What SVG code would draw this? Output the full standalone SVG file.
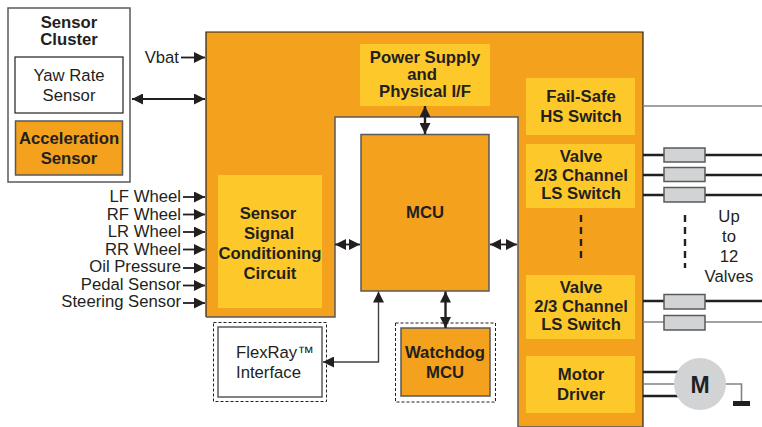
<svg xmlns="http://www.w3.org/2000/svg" width="762" height="427" viewBox="0 0 762 427">
<defs>
<marker id="a" viewBox="0 0 11 11" refX="11" refY="5.500" markerWidth="11" markerHeight="11" markerUnits="userSpaceOnUse" orient="auto-start-reverse"><path d="M0 0L11 5.500L0 11Z" fill="#231f20"/></marker>
</defs>
<style>
text{font-family:"Liberation Sans",Arial,sans-serif;fill:#231f20;text-anchor:middle;font-size:16.700px}
.b{font-weight:bold}
.r{text-anchor:end}
.y{fill:#fdc82a}
.o{fill:#f4a11d;stroke:#58595b;stroke-width:1.5}
.w{fill:#fff;stroke:#58595b;stroke-width:1.5}
.d{fill:none;stroke:#231f20;stroke-width:1;stroke-dasharray:3 2}
.c{fill:none;stroke:#231f20;stroke-width:1.8}
.t{fill:none;stroke:#231f20;stroke-width:2.400}
.g{fill:none;stroke:#808285;stroke-width:1.600}
.v{fill:#d1d3d4;stroke:#58595b;stroke-width:1.500}
.k{fill:none;stroke:#231f20;stroke-width:2.400;stroke-dasharray:7 5}
</style>
<g id="ecu"><path d="M206 32H643V427H518V117H335V317H206Z" fill="#f4a11d"/><path d="M206 317V32H643V427" fill="none" stroke="#231f20" stroke-width="1.2"/><path d="M206 317H335V117H518V427H643" fill="none" stroke="#58595b" stroke-width="1.5"/></g>
<g id="sensor-cluster"><rect x="8" y="8" width="122" height="174" class="w"/><text class="b" x="69" y="28">Sensor</text><text class="b" x="69" y="45">Cluster</text></g>
<g id="yaw-rate"><rect x="15" y="57" width="108" height="56" fill="#fff" stroke="#231f20" stroke-width="1.2"/><text x="69" y="81">Yaw Rate</text><text x="69" y="101">Sensor</text></g>
<g id="acceleration"><rect x="15.500" y="121" width="107" height="54" class="o"/><text class="b" x="69" y="144">Acceleration</text><text class="b" x="69" y="164">Sensor</text></g>
<g id="signal-conditioning"><rect x="218" y="175" width="104" height="133" class="y"/><text class="b" x="268" y="219">Sensor</text><text class="b" x="269" y="239">Signal</text><text class="b" x="270" y="259">Conditioning</text><text class="b" x="270" y="279">Circuit</text></g>
<g id="power-supply"><rect x="360" y="44" width="130" height="62" class="y"/><text class="b" x="425" y="63">Power Supply</text><text class="b" x="422" y="80">and</text><text class="b" x="425" y="97">Physical I/F</text></g>
<g id="mcu"><rect x="361" y="134.500" width="128" height="156.500" class="o"/><text class="b" x="425" y="218">MCU</text></g>
<g id="fail-safe"><rect x="526" y="78" width="109" height="57" class="y"/><text class="b" x="581" y="102">Fail-Safe</text><text class="b" x="581" y="122">HS Switch</text></g>
<g id="valve-1"><rect x="526" y="144" width="109" height="64" class="y"/><text class="b" x="581" y="162">Valve</text><text class="b" x="581" y="181">2/3 Channel</text><text class="b" x="581" y="199">LS Switch</text></g>
<g id="valve-2"><rect x="526" y="275" width="109" height="64" class="y"/><text class="b" x="581" y="293">Valve</text><text class="b" x="581" y="312">2/3 Channel</text><text class="b" x="581" y="330">LS Switch</text></g>
<g id="motor-driver"><rect x="526" y="356" width="109" height="57" class="y"/><text class="b" x="581" y="380">Motor</text><text class="b" x="581" y="400">Driver</text></g>
<g id="flexray"><rect x="213.500" y="322.500" width="113" height="79" class="d"/><rect x="218" y="327" width="104" height="70" class="w"/><text x="236" y="358" style="text-anchor:start">FlexRay™</text><text x="236" y="378" style="text-anchor:start">Interface</text></g>
<g id="watchdog"><rect x="395.500" y="323" width="100" height="79" class="d"/><rect x="401" y="328" width="89" height="68" class="o"/><text class="b" x="445" y="358">Watchdog</text><text class="b" x="445" y="378">MCU</text></g>
<g id="connectors">
<path class="c" d="M181 57.500H205" marker-end="url(#a)"/>
<path class="c" d="M132 99H205" marker-start="url(#a)" marker-end="url(#a)"/>
<path class="c" d="M183 197H205" marker-end="url(#a)"/>
<path class="c" d="M183 214.500H205" marker-end="url(#a)"/>
<path class="c" d="M183 232H205" marker-end="url(#a)"/>
<path class="c" d="M183 249.500H205" marker-end="url(#a)"/>
<path class="c" d="M183 268H205" marker-end="url(#a)"/>
<path class="c" d="M183 285.500H205" marker-end="url(#a)"/>
<path class="c" d="M183 303H205" marker-end="url(#a)"/>
<path class="t" d="M425 106V134" marker-start="url(#a)" marker-end="url(#a)"/>
<path class="c" d="M335 244.500H360" marker-start="url(#a)" marker-end="url(#a)"/>
<path class="c" d="M490 244.500H517" marker-start="url(#a)" marker-end="url(#a)"/>
<path class="t" d="M445.500 291.500V328" marker-start="url(#a)" marker-end="url(#a)"/>
<path d="M378.500 291.500V362H323" fill="none" stroke="#414042" stroke-width="1.4" marker-start="url(#a)" marker-end="url(#a)"/>
<path class="g" d="M643 106H762"/>
<path class="t" d="M643 155H762M643 175H762M643 195H762M643 301H762"/>
<path class="g" d="M643 322H762"/>
<path class="t" d="M643 372H680M643 396H680"/>
<path class="g" d="M643 384H680M724 384H741.500V403"/>
<rect x="733" y="401" width="17" height="5" fill="#231f20"/>
<path class="k" d="M581 215V258"/>
<path class="k" d="M685 215V268"/>
</g>
<g id="valve-coils"><rect x="664" y="148" width="41" height="14" class="v"/><rect x="664" y="167.500" width="41" height="14" class="v"/><rect x="664" y="187.500" width="41" height="14.500" class="v"/><rect x="664" y="294.500" width="41" height="14.500" class="v"/><rect x="664" y="315.500" width="41" height="14.500" class="v"/></g>
<g id="motor"><circle cx="700" cy="384" r="26" fill="#d1d3d4"/><text class="b" x="700" y="392.500" style="font-size:23px">M</text></g>
<g id="labels">
<text x="729" y="222">Up</text><text x="729" y="242">to</text><text x="729" y="262">12</text><text x="729" y="282">Valves</text>
<text class="r" x="179" y="63">Vbat</text>
<text class="r" x="181" y="202">LF Wheel</text>
<text class="r" x="181" y="219.500">RF Wheel</text>
<text class="r" x="181" y="237">LR Wheel</text>
<text class="r" x="181" y="254.500">RR Wheel</text>
<text class="r" x="181" y="272">Oil Pressure</text>
<text class="r" x="181" y="290">Pedal Sensor</text>
<text class="r" x="181" y="307">Steering Sensor</text>
</g>
</svg>
